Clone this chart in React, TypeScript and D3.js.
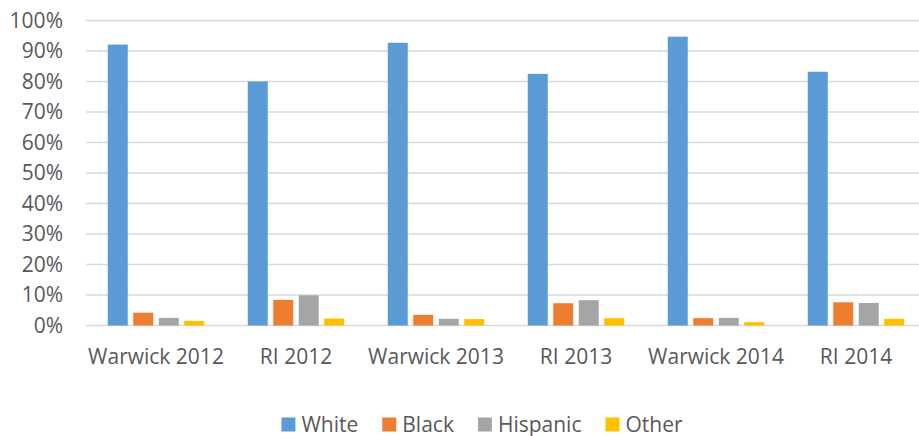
import React, { useEffect, useRef } from "react";
import * as d3 from "d3";

const categories = ["Warwick 2012", "RI 2012", "Warwick 2013", "RI 2013", "Warwick 2014", "RI 2014"];
const series = ["White", "Black", "Hispanic", "Other"];
const white = [0.921, 0.8, 0.927, 0.825, 0.947, 0.832];
const black = [0.042, 0.084, 0.035, 0.073, 0.024, 0.076];
const hispanic = [0.025, 0.099, 0.022, 0.083, 0.025, 0.074];
const other = [0.015, 0.023, 0.021, 0.024, 0.011, 0.022];
const yTicks = [0, 0.1, 0.2, 0.3, 0.4, 0.5, 0.6, 0.7, 0.8, 0.9, 1.0];
const colors = ["#5B9BD5", "#ED7D31", "#A5A5A5", "#FFC000"];

const W = 919;
const H = 436;
const FONT = "'Open Sans', sans-serif";
const TEXT = "#595959";

export default function App() {
  const ref = useRef<SVGSVGElement>(null);

  useEffect(() => {
    const svg = d3.select(ref.current);
    svg.selectAll("*").remove();
    const values = [white, black, hispanic, other];

    const x0 = d3.scaleBand<string>().domain(categories).range([86, 926]).paddingInner(0).paddingOuter(0);
    const groupW = 96.5;
    const x1 = d3
      .scaleBand<string>()
      .domain(series)
      .range([(x0.bandwidth() - groupW) / 2, (x0.bandwidth() + groupW) / 2])
      .paddingInner(0.2157)
      .paddingOuter(0);
    const y = d3.scaleLinear().domain([0, 1]).range([325.5, 20.5]);

    // gridlines
    svg
      .append("g")
      .selectAll("line")
      .data(yTicks)
      .join("line")
      .attr("x1", 86)
      .attr("x2", W)
      .attr("y1", (d) => y(d))
      .attr("y2", (d) => y(d))
      .attr("stroke", "#D9D9D9")
      .attr("stroke-width", 1.4);

    // y labels
    svg
      .append("g")
      .selectAll("text")
      .data(yTicks)
      .join("text")
      .attr("x", 63)
      .attr("y", (d) => y(d))
      .attr("dy", "0.35em")
      .attr("text-anchor", "end")
      .attr("font-family", FONT)
      .attr("font-size", 21)
      .attr("fill", TEXT)
      .text((d) => d3.format(".0%")(d));

    // bars
    const groups = svg
      .append("g")
      .selectAll("g")
      .data(categories)
      .join("g")
      .attr("transform", (c) => `translate(${x0(c)},0)`);
    groups
      .selectAll("rect")
      .data((c) => series.map((s, j) => ({ s, j, v: values[j][categories.indexOf(c)] })))
      .join("rect")
      .attr("x", (d) => x1(d.s)!)
      .attr("width", x1.bandwidth())
      .attr("y", (d) => y(d.v))
      .attr("height", (d) => y(0) - y(d.v))
      .attr("fill", (d) => colors[d.j]);

    // x labels
    svg
      .append("g")
      .selectAll("text")
      .data(categories)
      .join("text")
      .attr("x", (c) => x0(c)! + x0.bandwidth() / 2)
      .attr("y", 363.5)
      .attr("text-anchor", "middle")
      .attr("font-family", FONT)
      .attr("font-size", 21)
      .attr("fill", TEXT)
      .text((c) => c);

    // legend
    const lg = svg.append("g");
    const items = lg.selectAll("g").data(series).join("g");
    items
      .append("rect")
      .attr("width", 14)
      .attr("height", 14)
      .attr("y", 417.5)
      .attr("fill", (d, i) => colors[i]);
    const texts = items
      .append("text")
      .attr("x", 20)
      .attr("y", 431.5)
      .attr("font-family", FONT)
      .attr("font-size", 21)
      .attr("fill", TEXT)
      .text((d) => d);
    const widths: number[] = [];
    texts.each(function () {
      widths.push((this as SVGTextElement).getComputedTextLength());
    });
    const gap = 24;
    const total = widths.reduce((a, w) => a + 20 + w, 0) + gap * (series.length - 1);
    let cx = 482 - total / 2;
    items.attr("transform", (d, i) => {
      const t = `translate(${cx},0)`;
      cx += 20 + widths[i] + gap;
      return t;
    });
  }, []);

  return (
    <svg
      ref={ref}
      width={W}
      height={H}
      style={{ display: "block", position: "absolute", left: 0, top: 0, background: "#fff" }}
    />
  );
}
